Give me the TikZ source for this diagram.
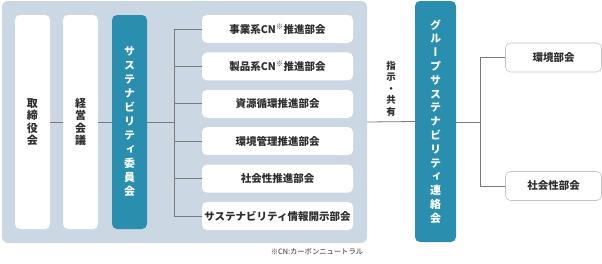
\documentclass[tikz,border=0pt]{standalone}
\usepackage{fontspec}
\setmainfont{Noto Sans CJK JP}
\newfontfamily\vjp[RawFeature=+vert]{Noto Sans CJK JP}
\usetikzlibrary{positioning}
\definecolor{panelbg}{HTML}{CBD8E3}
\definecolor{commteal}{HTML}{2A8FAF}
\definecolor{linegray}{HTML}{7A7A7A}
\definecolor{textdark}{HTML}{2E2E2E}
\definecolor{edgegray}{HTML}{C4C4C4}

\begin{document}
\begin{tikzpicture}[
    x=1pt, y=-1pt,
    node distance=9pt,
    every node/.style={inner sep=0pt, text=textdark},
    panel/.style={fill=panelbg, rounded corners=6pt, minimum width=365pt, minimum height=242pt},
    colbox/.style={fill=white, rounded corners=5pt, minimum width=35pt, minimum height=214pt, align=center, font=\vjp\bfseries\fontsize{11}{12.5}\selectfont},
    keybox/.style={colbox, fill=commteal, text=white, font=\vjp\bfseries\fontsize{11}{14}\selectfont},
    subbox/.style={fill=white, rounded corners=5pt, minimum width=151pt, minimum height=28pt, font=\bfseries\fontsize{10.5}{12}\selectfont},
    unitbox/.style={subbox, draw=edgegray, line width=0.6pt, minimum width=96pt, minimum height=29pt},
    conn/.style={draw=linegray, line width=0.8pt}
]
\useasboundingbox (0,0) rectangle (602,263);

\node[panel] (panel) at (184.5,122) {};

\node[colbox] (board) at (32.5,122) {取\\締\\役\\会};
\node[colbox] (mgmt) at (80.5,122) {経\\営\\会\\議};
\node[keybox] (comm) at (129.5,122) {サ\\ス\\テ\\ナ\\ビ\\リ\\テ\\ィ\\委\\員\\会};

\node[subbox] (s1) at (277.5,29) {事業系CN\textsuperscript{※}推進部会};
\node[subbox, below=of s1] (s2) {製品系CN\textsuperscript{※}推進部会};
\node[subbox, below=of s2] (s3) {資源循環推進部会};
\node[subbox, below=of s3] (s4) {環境管理推進部会};
\node[subbox, below=of s4] (s5) {社会性推進部会};
\node[subbox, below=of s5] (s6) {サステナビリティ情報開示部会};

\node[font=\fontsize{7.3}{8}\selectfont] (note) at (317,252) {※CN:カーボンニュートラル};

\node[keybox, minimum width=41pt, minimum height=241pt, font=\vjp\bfseries\fontsize{11}{13.8}\selectfont] (group) at (435.5,121.5) {グ\\ル\\ー\\プ\\サ\\ス\\テ\\ナ\\ビ\\リ\\テ\\ィ\\連\\絡\\会};

\node[unitbox] (env) at (553.5,57.5) {環境部会};
\node[unitbox] (soc) at (553.5,186) {社会性部会};

\coordinate (bus) at (174,122);
\coordinate (bus2) at (480,122);

\draw[conn] (board) -- (mgmt);
\draw[conn] (mgmt) -- (comm);
\draw[conn] (comm) -- (bus);
\draw[conn] (bus |- s1.west) -- (bus |- s6.west);
\foreach \i in {1,...,6}
    \draw[conn] (bus |- s\i.west) -- (s\i.west);

\draw[conn] (panel.east) -- node[above=5pt, align=center, font=\vjp\bfseries\fontsize{9.5}{11.5}\selectfont] (instr) {指\\示\\・\\共\\有} (group.west);

\draw[conn] (group.east |- bus2) -- (bus2);
\draw[conn] (bus2 |- env.west) -- (bus2 |- soc.west);
\draw[conn] (bus2 |- env.west) -- (env.west);
\draw[conn] (bus2 |- soc.west) -- (soc.west);
\end{tikzpicture}
\end{document}
